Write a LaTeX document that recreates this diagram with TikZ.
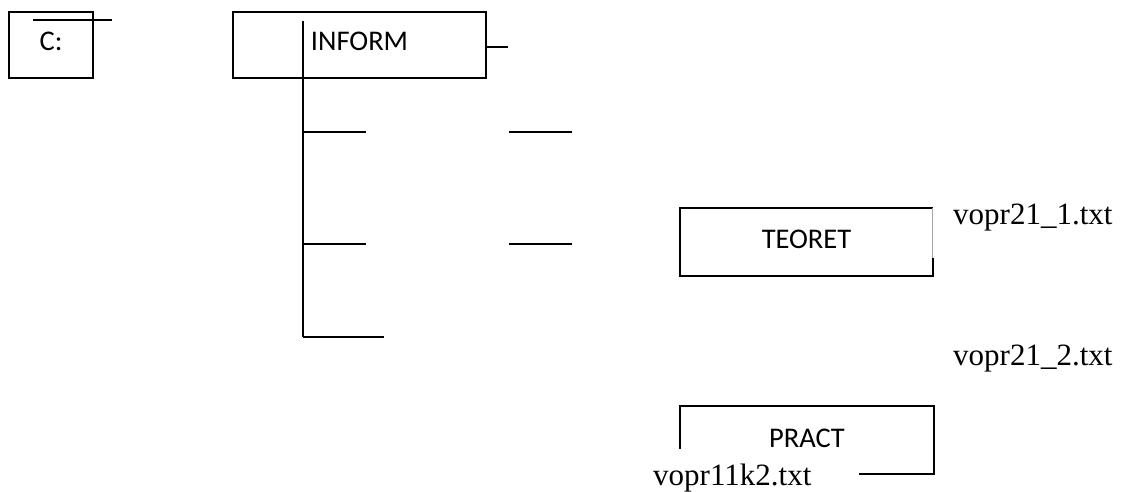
\documentclass[tikz,border=0pt]{standalone}
\usepackage{fontspec}
\setmainfont{Liberation Serif}
\newfontfamily\dirfont{Carlito}
\usepackage{tikz}
\usetikzlibrary{
    positioning,           % Relative positioning
    calc                   % Coordinate calculations
}
\tikzset{
    dirbox/.style={draw, line width=1.6pt, inner sep=0pt,
        minimum height=66pt, text height=18pt, text depth=6pt,
        font=\dirfont\fontsize{28.5}{30}\selectfont},
    dirplain/.style={dirbox, draw=none},
    filename/.style={anchor=base west, inner sep=0pt,
        font=\fontsize{31}{33}\selectfont},
    branch/.style={line width=2pt}
}

\begin{document}
\begin{tikzpicture}[x=1pt, y=-1pt]
    \useasboundingbox (0,0) rectangle (1121,492);

    % Drive and top folder
    \node[dirbox, minimum width=84pt] (drive) at (51,45) {C:};
    \node[dirbox, minimum width=253pt] (inform) at (359.5,45) {INFORM};
    \coordinate (drive bar left) at (33,20);
    \coordinate (drive bar right) at (112,20);
    \draw[branch] (drive bar left) -- (drive bar right);
    \coordinate (inform stub) at (508,47);
    \draw[branch] (inform.east |- inform stub) -- (inform stub);

    % Trunk with branches
    \coordinate (trunk top) at (303,21);
    \coordinate (trunk bottom) at (303,337);
    \draw[branch] (trunk top) -- (trunk bottom);
    \coordinate (twig a) at (366,132);
    \coordinate (twig b) at (366,244);
    \coordinate (twig c) at (384,337);
    \draw[branch] (trunk top |- twig a) -- (twig a);
    \draw[branch] (trunk top |- twig b) -- (twig b);
    \draw[branch] (trunk bottom) -- (twig c);
    \coordinate (dash a left) at (509,132);
    \coordinate (dash a right) at (572,132);
    \coordinate (dash b left) at (509,244);
    \coordinate (dash b right) at (572,244);
    \draw[branch] (dash a left) -- (dash a right);
    \draw[branch] (dash b left) -- (dash b right);

    % Subfolders
    \node[dirplain, minimum width=251pt] (teoret) at (806.5,242) {TEORET};
    \draw[line width=1.6pt] ([yshift=18pt]teoret.south east) -- (teoret.south east)
        -- (teoret.south west) -- (teoret.north west) -- (teoret.north east);
    \draw[gray!70, line width=0.8pt] (teoret.north east) -- ([yshift=18pt]teoret.south east);
    \node[dirplain, minimum width=252pt, text depth=4pt] (pract) at (807,440) {PRACT};
    \draw[line width=1.6pt] ([yshift=25pt]pract.south west) -- (pract.north west)
        -- (pract.north east) -- (pract.south east) -- ([xshift=-75pt]pract.south east);

    % Files
    \node[filename] (file one) at (953,224) {vopr21\_1.txt};
    \node[filename] (file two) at (953,365) {vopr21\_2.txt};
    \node[filename] (file three) at (653,485) {vopr11k2.txt};
\end{tikzpicture}
\end{document}
